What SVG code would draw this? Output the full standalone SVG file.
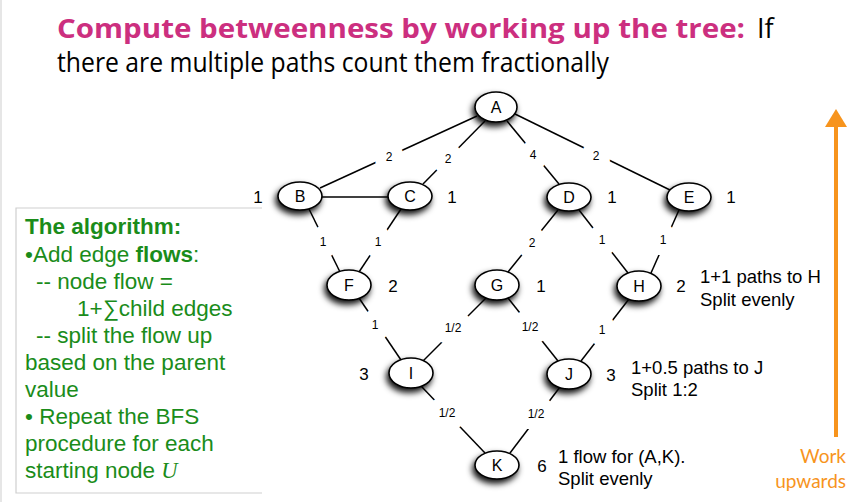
<svg xmlns="http://www.w3.org/2000/svg" width="850" height="502" viewBox="0 0 850 502">
  <style>
    .title { font-family: "Open Sans", Lato, sans-serif; font-size: 27px; }
    .node ellipse { fill: #fff; stroke: #000; stroke-width: 1.6; filter: url(#shadow); }
    .node text { font-family: "Liberation Sans", Arial, sans-serif; font-size: 16px; text-anchor: middle; fill: #000; }
    .edge { stroke: #000; stroke-width: 1.5; fill: none; }
    .elabel { font-family: "Liberation Sans", Arial, sans-serif; font-size: 12px; fill: #000; text-anchor: middle;
              stroke: #fff; stroke-width: 22px; paint-order: stroke; stroke-linejoin: round; }
    .count { font-family: "Liberation Sans", Arial, sans-serif; font-size: 17px; fill: #000; text-anchor: middle; }
    .note { font-family: "Liberation Sans", Arial, sans-serif; font-size: 18.5px; fill: #000; }
    .algo { font-family: "Liberation Sans", Arial, sans-serif; font-size: 22.5px; fill: #1a8c1a; }
    .work { font-family: Lato, "Open Sans", sans-serif; font-size: 19px; fill: #f7941d; text-anchor: end; }
  </style>
  <defs>
    <filter id="shadow" x="-60%" y="-60%" width="220%" height="220%">
      <feDropShadow dx="-2" dy="4" stdDeviation="3.2" flood-color="#000" flood-opacity="0.95"/>
    </filter>
  </defs>

  <rect width="850" height="502" fill="#fff"/>
  <line x1="1" y1="0" x2="1" y2="502" stroke="#e6e6e6" stroke-width="2"/>

  <!-- heading -->
  <text class="title" x="57" y="38" font-weight="bold" fill="#cc2f7f" textLength="688" lengthAdjust="spacingAndGlyphs">Compute betweenness by working up the tree:</text>
  <text class="title" x="757" y="38" fill="#000">If</text>
  <text class="title" x="57" y="72" fill="#000" textLength="552" lengthAdjust="spacingAndGlyphs">there are multiple paths count them fractionally</text>

  <!-- algorithm panel -->
  <g id="algorithm">
    <path d="M262,208 L16,208 L16,493 L262,493" fill="none" stroke="#cfcfcf" stroke-width="1.2"/>
    <text class="algo" x="25" y="234" font-weight="bold">The algorithm:</text>
    <text class="algo" x="25" y="262">•Add edge <tspan font-weight="bold">flows</tspan>:</text>
    <text class="algo" x="36" y="289">-- node flow =</text>
    <text class="algo" x="77" y="316">1+∑child edges</text>
    <text class="algo" x="36" y="343">-- split the flow up</text>
    <text class="algo" x="25" y="370">based on the parent</text>
    <text class="algo" x="25" y="397">value</text>
    <text class="algo" x="25" y="424">• Repeat the BFS</text>
    <text class="algo" x="25" y="451">procedure for each</text>
    <text class="algo" x="25" y="478">starting node <tspan font-family="'Liberation Serif', serif" font-style="italic">U</tspan></text>
  </g>

  <!-- connectors -->
  <g id="connectors">
    <line class="edge" x1="477" y1="116" x2="320" y2="188"/>
    <line class="edge" x1="485" y1="121" x2="423" y2="184"/>
    <line class="edge" x1="507" y1="121" x2="559" y2="184"/>
    <line class="edge" x1="515" y1="114" x2="670" y2="190"/>
    <line class="edge" x1="322" y1="197" x2="388" y2="197"/>
    <line class="edge" x1="309" y1="209" x2="340" y2="272"/>
    <line class="edge" x1="401" y1="209" x2="359" y2="272"/>
    <line class="edge" x1="558" y1="210" x2="508" y2="272"/>
    <line class="edge" x1="579" y1="210" x2="628" y2="273"/>
    <line class="edge" x1="679" y1="210" x2="651" y2="273"/>
    <line class="edge" x1="359" y1="298" x2="401" y2="360"/>
    <line class="edge" x1="486" y1="298" x2="423" y2="361"/>
    <line class="edge" x1="508" y1="298" x2="558" y2="361"/>
    <line class="edge" x1="629" y1="299" x2="581" y2="361"/>
    <line class="edge" x1="421" y1="386" x2="485" y2="453"/>
    <line class="edge" x1="560" y1="387" x2="510" y2="453"/>

    <text class="elabel" x="389" y="161">2</text>
    <text class="elabel" x="448" y="163">2</text>
    <text class="elabel" x="533" y="159">4</text>
    <text class="elabel" x="596" y="160">2</text>
    <text class="elabel" x="323" y="246">1</text>
    <text class="elabel" x="378" y="246">1</text>
    <text class="elabel" x="532" y="247">2</text>
    <text class="elabel" x="602" y="244">1</text>
    <text class="elabel" x="663" y="244">1</text>
    <text class="elabel" x="375" y="329">1</text>
    <text class="elabel" x="453" y="332">1/2</text>
    <text class="elabel" x="530" y="331">1/2</text>
    <text class="elabel" x="602" y="334">1</text>
    <text class="elabel" x="447" y="417">1/2</text>
    <text class="elabel" x="536" y="418">1/2</text>
  </g>

  <!-- nodes -->
  <g id="node-A" class="node"><ellipse cx="496" cy="107" rx="21" ry="15"/><text x="496" y="113">A</text></g>
  <g id="node-B" class="node"><ellipse cx="300" cy="196" rx="22" ry="14"/><text x="300" y="202">B</text></g>
  <g id="node-C" class="node"><ellipse cx="410" cy="196" rx="22" ry="14"/><text x="410" y="202">C</text></g>
  <g id="node-D" class="node"><ellipse cx="569" cy="197" rx="22" ry="14"/><text x="569" y="203">D</text></g>
  <g id="node-E" class="node"><ellipse cx="689" cy="197" rx="22" ry="14"/><text x="689" y="203">E</text></g>
  <g id="node-F" class="node"><ellipse cx="349" cy="285" rx="22" ry="15"/><text x="349" y="291">F</text></g>
  <g id="node-G" class="node"><ellipse cx="497" cy="285" rx="22" ry="15"/><text x="497" y="291">G</text></g>
  <g id="node-H" class="node"><ellipse cx="639" cy="286" rx="22" ry="15"/><text x="639" y="292">H</text></g>
  <g id="node-I" class="node"><ellipse cx="411" cy="373" rx="22" ry="15"/><text x="411" y="379">I</text></g>
  <g id="node-J" class="node"><ellipse cx="569" cy="374" rx="22" ry="15"/><text x="569" y="380">J</text></g>
  <g id="node-K" class="node"><ellipse cx="497" cy="465" rx="22" ry="14"/><text x="497" y="471">K</text></g>

  <!-- node flow counts -->
  <g id="counts">
    <text class="count" x="258" y="203">1</text>
    <text class="count" x="452" y="203">1</text>
    <text class="count" x="612" y="203">1</text>
    <text class="count" x="731" y="203">1</text>
    <text class="count" x="393" y="292">2</text>
    <text class="count" x="541" y="292">1</text>
    <text class="count" x="681" y="292">2</text>
    <text class="count" x="364" y="380">3</text>
    <text class="count" x="611" y="381">3</text>
    <text class="count" x="542" y="472">6</text>
  </g>

  <!-- annotations -->
  <g id="notes">
    <text class="note" x="700" y="283">1+1 paths to H</text>
    <text class="note" x="700" y="306">Split evenly</text>
    <text class="note" x="631" y="374">1+0.5 paths to J</text>
    <text class="note" x="631" y="396">Split 1:2</text>
    <text class="note" x="558" y="463">1 flow for (A,K).</text>
    <text class="note" x="558" y="485">Split evenly</text>
  </g>

  <!-- direction arrow -->
  <g id="work-upwards">
    <line x1="836" y1="437" x2="836" y2="124" stroke="#f7941d" stroke-width="4"/>
    <polygon points="836,109 847,127 825,127" fill="#f7941d"/>
    <text class="work" x="846" y="463">Work</text>
    <text class="work" x="846" y="488">upwards</text>
  </g>
</svg>
